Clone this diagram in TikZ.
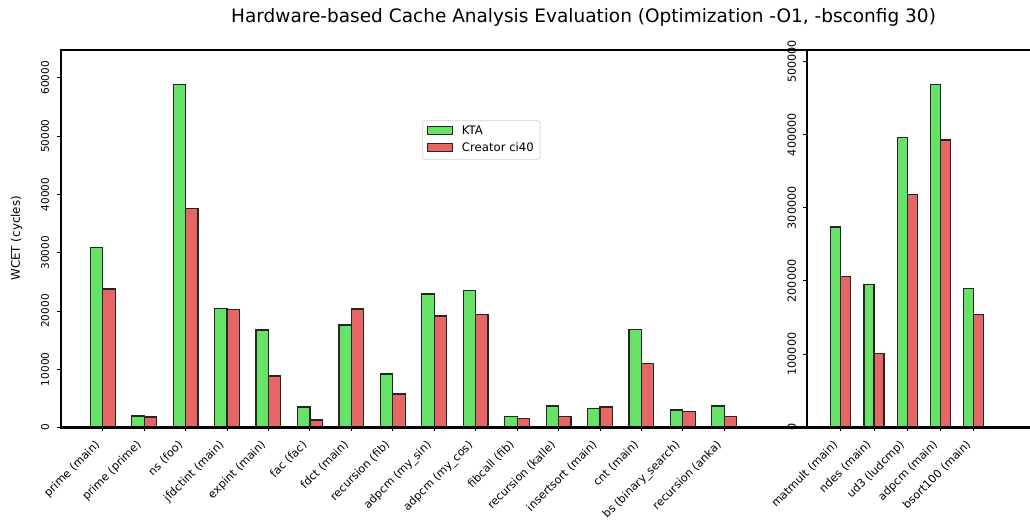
\documentclass[tikz,border=0pt]{standalone}
\usepackage{fontspec}
\setmainfont{DejaVu Sans}
\definecolor{kta}{RGB}{102,226,102}
\definecolor{cre}{RGB}{230,102,102}
\begin{document}
\begin{tikzpicture}[x=1pt,y=-1pt,
  bar/.style={draw=black!85, line width=1.2pt},
  tickline/.style={line width=0.9pt},
  spine/.style={line width=2pt},
  xtl/.style={rotate=45, anchor=north east, inner sep=0pt, font=\fontsize{11.2}{13}\selectfont},
  ytlL/.style={rotate=90, inner sep=0pt, font=\fontsize{10.5}{12}\selectfont},
  ytlR/.style={rotate=90, inner sep=0pt, font=\fontsize{11.2}{13}\selectfont},
  legtext/.style={anchor=west, inner sep=0pt, font=\fontsize{11.7}{13}\selectfont}]
\useasboundingbox (0,0) rectangle (1030,521);
% title
\node[font=\fontsize{18.5}{22}\selectfont, inner sep=0pt] (title) at (583.5,17) {Hardware-based Cache Analysis Evaluation (Optimization -O1, -bsconfig 30)};
% y label
\node[rotate=90, inner sep=0pt, font=\fontsize{11.9}{14}\selectfont] (ylab) at (16.7,238.3) {WCET (cycles)};
% left bars
\foreach \k/\g/\r/\lab in {0/30.93/23.77/prime (main),1/1.99/1.82/prime (prime),2/58.88/37.61/ns (foo),3/20.39/20.29/jfdctint (main),4/16.74/8.85/expint (main),5/3.53/1.30/fac (fac),6/17.60/20.34/fdct (main),7/9.19/5.76/recursion (fib),8/22.92/19.14/adpcm (my\_sin),9/23.57/19.46/adpcm (my\_cos),10/1.87/1.60/fibcall (fib),11/3.70/1.87/recursion (kalle),12/3.24/3.53/insertsort (main),13/16.86/11.03/cnt (main),14/3.02/2.73/bs (binary\_search),15/3.70/1.87/recursion (anka)}{
  \pgfmathsetmacro\xc{102.7+\k*41.44}
  \draw[bar, fill=kta] ({\xc-12.43},427.3) rectangle (\xc,{427.6-\g*5.83});
  \draw[bar, fill=cre] (\xc,427.3) rectangle ({\xc+12.43},{427.6-\r*5.83});
  \draw[tickline] (\xc,427.3) -- (\xc,431.3);
  \node[xtl] (lx\k) at ({\xc-8.5},439.5) {\lab};
}
% right bars
\foreach \k/\g/\r/\lab in {0/273.7/205.7/matmult (main),1/194.8/101.0/ndes (main),2/396.4/317.9/ud3 (ludcmp),3/469.0/392.7/adpcm (main),4/189.9/153.8/bsort100 (main)}{
  \pgfmathsetmacro\xc{840.7+\k*33.27}
  \draw[bar, fill=kta] ({\xc-9.98},427.3) rectangle (\xc,{427.1-\g*0.731});
  \draw[bar, fill=cre] (\xc,427.3) rectangle ({\xc+9.98},{427.1-\r*0.731});
  \draw[tickline] (\xc,427.3) -- (\xc,431.3);
  \node[xtl] (rx\k) at ({\xc-8.5},439.5) {\lab};
}
% left y ticks
\foreach \v/\t in {0/0,10/10000,20/20000,30/30000,40/40000,50/50000,60/60000}{
  \draw[tickline] (57.3,{427.6-\v*5.83}) -- (61,{427.6-\v*5.83});
  \node[ytlL] (ly\v) at (45,{427.6-\v*5.83}) {\t};
}
% right y ticks
\foreach \v/\t in {0/0,100/100000,200/200000,300/300000,400/400000,500/500000}{
  \draw[tickline] (803.3,{427.1-\v*0.731}) -- (807,{427.1-\v*0.731});
  \node[ytlR] (ry\v) at (791.7,{427.1-\v*0.731}) {\t};
}
% spines
\draw[line width=1.2pt] (61,50) -- (1030,50);
\draw[spine] (61,49.4) -- (61,427.3);
\draw[spine] (807,49.4) -- (807,427.3);
\draw[line width=2.4pt] (60,427.3) -- (1030,427.3);
% legend
\draw[draw=black!18, fill=white, rounded corners=2pt, line width=0.8pt] (422.7,120.7) rectangle (540,159.3);
\draw[bar, fill=kta] (427.3,126.5) rectangle (452.3,134.5);
\draw[bar, fill=cre] (427.3,143.3) rectangle (452.3,151.3);
\node[legtext] (lk) at (461.7,130.7) {KTA};
\node[legtext] (lc) at (461.7,147.3) {Creator ci40};
\end{tikzpicture}
\end{document}
